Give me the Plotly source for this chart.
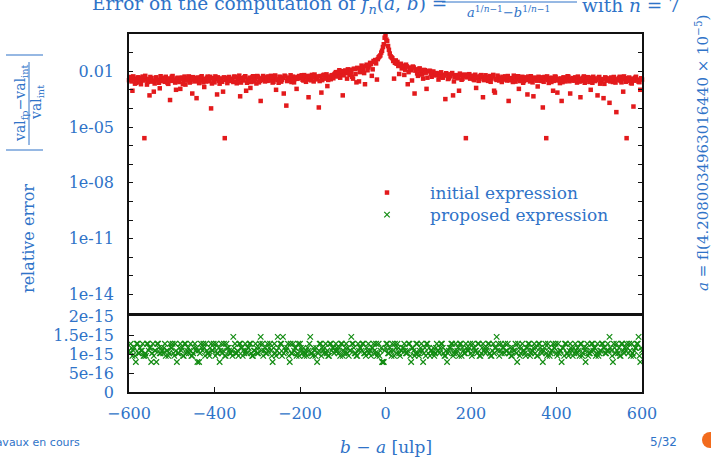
import plotly.graph_objects as go

# ---------------- data ----------------
# b - a in ulp, two interleaved sample grids
b_minus_a = list(range(-600, 601, 4))
b_minus_a_mid = list(range(-598, 599, 4))

# log10 of the relative error of the initial expression, on b_minus_a
initial_log10_err = [
    -2.48, -2.31, -3.05, -2.42, -2.62, -2.35, -2.55, -2.70, -2.29, -5.60, -2.44, -2.58, -3.30, -2.38, -2.51, -2.66, -2.33, -2.47, -2.92, -2.40,
    -2.36, -2.57, -2.45, -2.68, -3.55, -2.30, -2.49, -2.61, -2.39, -2.53, -2.95, -2.34, -2.46, -2.72, -2.41, -2.28, -2.56, -3.20, -2.43, -2.37,
    -2.50, -2.64, -2.32, -2.45, -2.85, -2.55, -2.29, -2.48, -4.00, -2.38, -2.60, -2.42, -2.33, -2.67, -2.47, -3.10, -5.60, -2.36, -2.52, -2.44,
    -2.40, -2.58, -2.30, -2.65, -2.43, -3.35, -2.37, -2.50, -2.27, -2.62, -2.45, -2.90, -2.34, -2.55, -2.41, -2.26, -2.60, -3.60, -2.39, -2.48,
    -2.33, -2.52, -2.44, -2.25, -2.61, -2.38, -3.00, -2.47, -2.30, -2.56, -2.36, -2.24, -3.85, -2.49, -2.35, -2.58, -2.29, -2.42, -2.95, -2.31,
    -2.37, -2.22, -2.50, -2.34, -2.27, -3.40, -2.45, -2.20, -2.55, -2.31, -2.40, -3.95, -2.26, -2.48, -2.19, -2.36, -2.80, -2.29, -2.43, -2.21,
    -2.18, -2.05, -2.26, -1.95, -2.14, -3.30, -2.00, -2.11, -1.90, -2.20, -2.08, -2.40, -1.88, -2.60, -1.85, -2.05, -1.70, -1.95, -2.70, -1.65,
    -1.80, -1.55, -2.25, -1.45, -1.40, -2.45, -1.25, -1.15, -0.90, -0.55, -0.06, -0.38, -0.85, -1.20, -1.30, -2.40, -1.42, -1.50, -2.15, -1.60,
    -1.70, -2.20, -1.65, -2.70, -1.80, -1.95, -1.75, -3.20, -1.90, -2.25, -1.85, -2.05, -2.40, -1.95, -2.95, -2.00, -1.98, -2.30, -2.02, -2.20,
    -2.20, -2.45, -2.12, -2.32, -2.24, -3.50, -2.17, -2.38, -2.28, -2.10, -2.55, -2.22, -2.34, -3.05, -2.19, -2.41, -2.27, -5.60, -2.30, -2.16,
    -2.36, -2.24, -2.48, -2.90, -2.29, -2.40, -2.21, -3.40, -2.44, -2.33, -2.52, -2.26, -2.38, -2.20, -3.15, -2.47, -2.31, -2.42, -2.58, -2.35,
    -2.28, -2.50, -3.60, -2.37, -2.45, -2.24, -2.56, -2.33, -2.95, -2.41, -2.30, -2.53, -2.39, -3.25, -2.46, -2.27, -2.60, -2.35, -2.44, -2.82,
    -2.38, -2.52, -3.95, -2.31, -5.60, -2.47, -2.36, -2.58, -3.05, -2.29, -2.49, -2.41, -2.64, -3.60, -2.34, -2.55, -2.43, -2.30, -3.20, -2.50,
    -2.46, -2.33, -2.61, -2.40, -3.40, -2.52, -2.28, -2.57, -2.44, -2.36, -3.00, -2.62, -2.39, -2.48, -3.30, -2.31, -2.55, -2.45, -2.68, -2.37,
    -2.50, -3.70, -2.34, -2.58, -2.42, -4.20, -2.47, -2.30, -2.60, -3.10, -2.38, -5.60, -2.52, -2.44, -2.66, -3.90, -2.35, -2.49, -2.57, -3.00,
    -2.45,
]

# log10 of the relative error of the initial expression, on b_minus_a_mid
initial_log10_err_mid = [
    -2.40, -2.55, -2.28, -2.67, -2.45, -2.33, -2.60, -2.38, -2.50, -2.25, -2.72, -2.42, -2.31, -2.56, -3.10, -2.36, -2.48, -2.62, -2.27, -2.53,
    -2.44, -2.30, -2.63, -2.39, -2.52, -2.26, -2.47, -3.00, -2.35, -2.58, -2.41, -2.69, -2.29, -2.50, -2.37, -2.61, -2.43, -2.32, -2.55, -3.45,
    -2.34, -2.49, -2.27, -2.60, -2.42, -2.36, -2.54, -2.30, -2.66, -2.45, -2.28, -3.25, -2.51, -2.39, -2.57, -2.33, -2.46, -2.64, -2.31, -2.52,
    -2.47, -2.29, -2.56, -2.38, -2.24, -2.61, -2.43, -2.32, -3.05, -2.49, -2.35, -2.58, -2.27, -2.44, -2.66, -2.30, -2.52, -2.40, -2.26, -2.55,
    -2.39, -2.28, -2.50, -2.35, -2.57, -2.23, -2.44, -2.62, -2.31, -2.47, -3.20, -2.29, -2.53, -2.37, -2.22, -2.48, -2.60, -2.33, -2.41, -2.26,
    -2.30, -2.46, -2.21, -2.57, -2.36, -2.25, -2.49, -2.32, -2.18, -2.44, -2.28, -2.53, -3.15, -2.23, -2.40, -2.17, -2.47, -2.31, -2.22, -2.38,
    -2.12, -2.28, -2.05, -2.35, -2.00, -2.22, -1.96, -2.40, -2.08, -1.92, -2.30, -1.87, -2.15, -1.82, -2.55, -1.90, -1.78, -2.10, -1.72, -1.95,
    -1.68, -1.62, -1.90, -1.50, -1.58, -1.35, -1.20, -1.00, -0.70, -0.20, -0.30, -0.65, -1.05, -1.25, -1.45, -1.55, -1.60, -1.72, -1.65, -1.85,
    -1.78, -1.92, -1.74, -2.05, -1.85, -2.50, -1.80, -1.97, -2.12, -1.88, -2.00, -2.18, -1.93, -2.08, -2.35, -1.99, -2.15, -2.04, -2.22, -2.10,
    -2.14, -2.28, -2.06, -2.35, -2.19, -2.11, -2.42, -2.25, -2.16, -3.30, -2.30, -2.21, -2.38, -2.13, -2.46, -2.26, -2.18, -2.33, -2.23, -2.40,
    -2.27, -2.44, -2.19, -2.36, -2.52, -2.25, -2.31, -2.48, -2.22, -2.40, -2.34, -2.57, -2.28, -3.05, -2.43, -2.24, -2.50, -2.37, -2.30, -2.45,
    -2.35, -2.26, -2.49, -2.40, -2.58, -2.31, -2.44, -2.27, -2.53, -2.38, -2.62, -2.33, -2.47, -2.29, -2.55, -2.42, -3.35, -2.36, -2.51, -2.30,
    -2.44, -2.33, -2.57, -2.41, -2.28, -2.63, -2.45, -2.36, -2.52, -2.30, -3.15, -2.48, -2.39, -2.59, -2.34, -2.46, -2.27, -2.54, -2.42, -2.37,
    -2.51, -2.38, -2.29, -2.56, -2.43, -2.35, -2.62, -2.47, -2.32, -2.58, -2.40, -2.30, -2.53, -2.45, -2.36, -2.67, -2.42, -3.45, -2.33, -2.49,
    -2.39, -2.55, -2.44, -2.31, -2.61, -2.47, -2.36, -2.52, -2.42, -2.28, -2.57, -2.46, -2.34, -2.63, -2.40, -2.51, -2.30, -2.45, -2.59, -2.38,
]

# relative error of the proposed expression (units of 1e-15), on b_minus_a
proposed_err_e15 = [
    1.09, 1.27, 0.95, 1.16, 0.79, 1.27, 1.02, 1.09, 1.27, 0.95, 0.95, 1.27, 1.16, 0.79, 1.27, 1.09, 0.79, 1.27, 1.02, 1.16,
    1.02, 1.27, 1.09, 0.95, 1.27, 1.16, 1.02, 1.27, 0.79, 1.02, 1.27, 1.16, 0.95, 1.27, 1.09, 1.02, 1.27, 0.95, 1.16, 1.09,
    0.79, 0.79, 1.27, 1.09, 1.16, 1.27, 1.02, 0.95, 1.27, 1.09, 1.16, 1.27, 1.02, 0.79, 1.27, 1.09, 0.95, 1.27, 1.16, 1.02,
    1.09, 1.45, 1.27, 1.02, 0.95, 1.27, 1.16, 1.09, 1.27, 1.02, 1.16, 1.27, 0.95, 1.09, 1.27, 1.02, 1.16, 1.45, 1.27, 1.09,
    1.02, 1.27, 1.16, 1.09, 0.79, 1.27, 0.95, 1.45, 1.02, 1.27, 1.45, 1.16, 1.09, 1.27, 0.79, 1.02, 1.27, 1.16, 0.95, 1.27,
    1.27, 1.09, 1.16, 1.02, 0.95, 1.09, 1.45, 1.02, 1.16, 0.95, 0.79, 1.09, 1.27, 1.16, 1.02, 1.27, 1.09, 0.95, 1.27, 1.16,
    1.02, 1.27, 1.09, 1.16, 1.27, 0.95, 1.02, 1.27, 1.16, 1.09, 1.45, 1.27, 1.02, 0.95, 1.27, 1.16, 1.09, 1.27, 1.02, 1.16,
    1.27, 1.09, 1.16, 1.27, 1.02, 0.95, 1.27, 1.09, 0.79, 0.79, 1.16, 1.27, 1.02, 1.09, 1.27, 0.95, 1.16, 1.27, 1.02, 1.09,
    1.16, 1.27, 1.02, 1.09, 1.27, 0.79, 1.16, 0.95, 1.27, 1.02, 1.09, 1.27, 0.79, 1.16, 1.27, 1.02, 0.95, 1.09, 1.16, 1.02,
    1.27, 1.09, 1.16, 1.27, 1.02, 0.95, 0.79, 1.09, 1.16, 1.27, 1.02, 1.27, 1.09, 0.95, 1.27, 1.16, 1.02, 1.27, 1.09, 1.16,
    1.02, 1.27, 1.16, 1.09, 1.27, 0.95, 1.02, 1.27, 1.16, 1.09, 1.27, 1.02, 0.95, 1.27, 1.16, 1.45, 1.27, 1.09, 1.02, 1.16,
    1.27, 1.09, 1.02, 1.16, 0.95, 1.09, 1.27, 0.79, 1.16, 1.02, 1.27, 1.09, 0.95, 1.16, 1.27, 1.02, 1.09, 1.27, 1.16, 0.95,
    1.27, 1.09, 0.79, 1.16, 1.02, 1.27, 0.95, 1.09, 1.27, 1.16, 1.02, 1.27, 1.09, 0.79, 1.16, 1.27, 1.02, 0.95, 1.27, 1.09,
    1.16, 1.27, 1.02, 1.09, 1.27, 0.95, 1.16, 0.79, 1.27, 1.02, 1.09, 1.27, 1.16, 0.95, 1.27, 1.02, 1.09, 1.27, 1.16, 1.02,
    1.27, 1.45, 1.09, 0.79, 1.16, 1.27, 1.02, 0.95, 1.27, 1.09, 1.16, 1.27, 1.02, 1.09, 1.27, 0.95, 1.16, 1.27, 1.45, 0.79,
    1.09,
]

# relative error of the proposed expression (units of 1e-15), on b_minus_a_mid
proposed_err_e15_mid = [
    1.02, 1.16, 1.09, 0.95, 1.27, 1.02, 1.16, 1.09, 0.95, 1.02, 1.27, 1.09, 1.16, 1.02, 0.95, 1.09, 1.27, 1.16, 1.02, 1.09,
    1.16, 0.95, 1.09, 1.02, 1.16, 1.27, 0.95, 1.09, 1.02, 1.16, 1.09, 0.95, 1.27, 1.02, 1.16, 1.09, 0.95, 1.02, 1.27, 1.16,
    1.09, 1.02, 1.16, 1.27, 0.95, 1.09, 1.02, 1.16, 1.09, 1.27, 0.95, 1.02, 1.16, 1.09, 1.02, 1.27, 0.95, 1.16, 1.09, 1.02,
    0.95, 1.16, 1.02, 1.09, 1.27, 1.16, 0.95, 1.02, 1.09, 1.16, 1.27, 1.02, 0.95, 1.09, 1.16, 1.02, 1.27, 1.09, 0.95, 1.16,
    1.02, 1.09, 1.27, 0.95, 1.16, 1.02, 1.09, 1.16, 1.27, 0.95, 1.02, 1.09, 1.16, 0.95, 1.27, 1.02, 1.09, 1.16, 1.02, 0.95,
    1.16, 1.02, 0.95, 1.09, 1.16, 1.27, 1.02, 0.95, 1.09, 1.16, 1.02, 1.27, 0.95, 1.09, 1.16, 1.02, 0.95, 1.27, 1.09, 1.16,
    1.09, 1.16, 1.02, 0.95, 1.27, 1.09, 1.16, 1.02, 0.95, 1.09, 1.27, 1.16, 1.02, 0.95, 1.09, 1.16, 1.27, 1.02, 0.95, 1.09,
    1.02, 0.95, 1.16, 1.09, 1.27, 1.02, 0.95, 1.16, 0.79, 1.09, 1.27, 1.02, 1.16, 0.95, 1.09, 1.27, 1.02, 1.16, 0.95, 1.09,
    1.16, 1.09, 1.02, 1.27, 0.95, 1.16, 1.09, 1.02, 1.27, 0.95, 1.16, 1.09, 1.02, 0.95, 1.27, 1.16, 1.09, 1.02, 0.95, 1.16,
    1.09, 1.02, 1.27, 1.16, 0.95, 1.09, 1.02, 1.16, 1.27, 0.95, 1.09, 1.02, 1.16, 1.27, 0.95, 1.09, 1.02, 1.16, 1.09, 1.27,
    0.95, 1.16, 1.09, 1.02, 1.27, 0.95, 1.16, 1.09, 1.02, 1.16, 1.27, 0.95, 1.09, 1.02, 1.16, 1.09, 0.95, 1.27, 1.16, 1.02,
    1.09, 1.27, 1.02, 0.95, 1.16, 1.09, 1.02, 1.27, 0.95, 1.16, 1.09, 1.02, 1.16, 1.27, 0.95, 1.09, 1.16, 1.02, 0.95, 1.27,
    1.16, 1.02, 1.09, 1.27, 0.95, 1.16, 1.02, 1.09, 1.16, 1.27, 0.95, 1.02, 1.09, 1.16, 0.95, 1.27, 1.02, 1.09, 1.16, 0.95,
    1.02, 1.09, 1.16, 0.95, 1.27, 1.02, 1.09, 1.16, 0.95, 1.02, 1.27, 1.09, 1.16, 1.02, 0.95, 1.09, 1.27, 1.16, 1.02, 1.09,
    1.09, 1.16, 0.95, 1.27, 1.02, 1.09, 1.16, 0.95, 1.27, 1.02, 1.09, 1.16, 1.27, 0.95, 1.02, 1.09, 1.16, 1.27, 0.95, 1.16,
]

assert len(initial_log10_err) == len(b_minus_a) == len(proposed_err_e15)
assert len(initial_log10_err_mid) == len(b_minus_a_mid) == len(proposed_err_e15_mid)

x_ticks = [-600, -400, -200, 0, 200, 400, 600]
x_tick_labels = ["\u2212600", "\u2212400", "\u2212200", "0", "200", "400", "600"]
top_decades = list(range(-15, 1))
top_labelled = {-2: "0.01", -5: "1e-05", -8: "1e-08", -11: "1e-11", -14: "1e-14"}
bottom_ticks = [0, 0.5e-15, 1e-15, 1.5e-15, 2e-15]
bottom_tick_labels = ["0", "5e-16", "1e-15", "1.5e-15", "2e-15"]
ulp_ticks = [1.63e-15, 0.14e-15]
ulp_tick_labels = ["10 ulp", "ulp"]

# ---------------- styling ----------------
W, H = 711, 458
BLUE = "#2f73c8"
RED = "#e31a1c"
GREEN = "#138c13"
FONT = "DejaVu Serif"
AX = "#111111"


def px(x):
    return x / W


def py(y):
    return 1 - y / H


x_dom = [px(129), px(642)]
top_dom = [py(313), py(34)]
bot_dom = [py(392), py(316)]

fig = go.Figure()
fig.add_trace(go.Scatter(
    x=b_minus_a + b_minus_a_mid,
    y=[10 ** v for v in initial_log10_err + initial_log10_err_mid],
    mode="markers", name="initial expression", legend="legend",
    marker=dict(symbol="square", size=4.5, color=RED, line=dict(width=0)),
    xaxis="x", yaxis="y", cliponaxis=False,
))
fig.add_trace(go.Scatter(
    x=b_minus_a + b_minus_a_mid,
    y=[v * 1e-15 for v in proposed_err_e15 + proposed_err_e15_mid],
    mode="markers", name="proposed expression", legend="legend2",
    marker=dict(symbol="x-thin", size=5.5, color=GREEN, line=dict(width=1.2, color=GREEN)),
    xaxis="x2", yaxis="y2",
))

tickfont = dict(family=FONT, size=16, color=BLUE)
common = dict(showgrid=False, zeroline=False, automargin=False, tickfont=tickfont)
legend_common = dict(
    xanchor="left", yanchor="middle",
    font=dict(family=FONT, size=17, color=BLUE),
    bgcolor="rgba(0,0,0,0)", itemwidth=76, borderwidth=0,
)

fig.update_layout(
    width=W, height=H,
    margin=dict(l=0, r=0, t=0, b=0, autoexpand=False),
    paper_bgcolor="white", plot_bgcolor="white",
    showlegend=True,
    legend=dict(x=px(344), y=py(193), **legend_common),
    legend2=dict(x=px(344), y=py(215), **legend_common),
    xaxis=dict(
        domain=x_dom, anchor="y", range=[-600, 600],
        showticklabels=False, ticks="",
        showline=True, mirror=True, linecolor=AX, linewidth=1.5, **common,
    ),
    yaxis=dict(
        domain=top_dom, anchor="x", type="log", range=[-15, 0],
        tickvals=[10.0 ** k for k in top_decades],
        ticktext=[top_labelled.get(k, "") for k in top_decades],
        ticks="inside", ticklen=4, tickcolor=AX, tickwidth=1,
        mirror="allticks", showline=True, linecolor=AX, linewidth=1.5,
        ticklabelstandoff=10, **common,
    ),
    xaxis2=dict(
        domain=x_dom, anchor="y2", range=[-600, 600],
        tickvals=x_ticks, ticktext=x_tick_labels,
        ticks="inside", ticklen=5, tickcolor=AX,
        showline=True, mirror=True, linecolor=AX, linewidth=1.5,
        ticklabelstandoff=6, **common,
    ),
    yaxis2=dict(
        domain=bot_dom, anchor="x2", range=[0, 2e-15],
        tickvals=bottom_ticks, ticktext=bottom_tick_labels,
        ticks="inside", ticklen=5, tickcolor=AX,
        showline=True, mirror=True, linecolor=AX, linewidth=1.5,
        ticklabelstandoff=10, **common,
    ),
    yaxis3=dict(
        overlaying="y2", anchor="x2", side="right", range=[0, 2e-15],
        tickvals=ulp_ticks, ticktext=ulp_tick_labels,
        ticks="inside", ticklen=5, tickcolor=AX,
        showline=False, ticklabelstandoff=10, **common,
    ),
)

ann = []
# frame title (cut off at the top like the slide)
ann.append(dict(x=px(90), y=py(5.5), xanchor="left", yanchor="middle",
                text="Error on the computation of <i>f</i><sub><i>n</i></sub>(<i>a</i>, <i>b</i>) =",
                font=dict(family=FONT, size=18.5, color=BLUE)))
ann.append(dict(x=px(509), y=py(12), xanchor="center", yanchor="middle",
                text="<i>a</i><sup>1/<i>n</i>\u22121</sup>\u2212<i>b</i><sup>1/<i>n</i>\u22121</sup>",
                font=dict(family=FONT, size=13, color=BLUE)))
ann.append(dict(x=px(580), y=py(5.5), xanchor="left", yanchor="middle",
                text="with <i>n</i> = 7",
                font=dict(family=FONT, size=18.5, color=BLUE)))
# y-axis titles
ann.append(dict(x=px(28), y=py(239), xanchor="center", yanchor="middle",
                text="relative error", textangle=-90,
                font=dict(family=FONT, size=16, color=BLUE)))
ann.append(dict(x=px(21), y=py(103), xanchor="center", yanchor="middle",
                text="val<sub>fp</sub>\u2212val<sub>int</sub>", textangle=-90,
                font=dict(family=FONT, size=14, color=BLUE)))
ann.append(dict(x=px(37), y=py(103), xanchor="center", yanchor="middle",
                text="val<sub>int</sub>", textangle=-90,
                font=dict(family=FONT, size=14, color=BLUE)))
# right rotated text
ann.append(dict(x=px(702), y=py(293), xanchor="center", yanchor="bottom",
                text="<i>a</i> = fl(4.2080034963016440 \u00d7 10<sup>\u22125</sup>)", textangle=-90,
                font=dict(family=FONT, size=15, color=BLUE)))
# x-axis title
ann.append(dict(x=px(386), y=py(447), xanchor="center", yanchor="middle",
                text="<i>b</i> \u2212 <i>a</i> [ulp]",
                font=dict(family=FONT, size=17, color=BLUE)))
# slide footer
ann.append(dict(x=px(82), y=py(442), xanchor="right", yanchor="middle",
                text="Travaux en cours",
                font=dict(family="DejaVu Sans", size=11, color=BLUE)))
ann.append(dict(x=px(663), y=py(442), xanchor="center", yanchor="middle",
                text="5/32",
                font=dict(family="DejaVu Sans", size=12, color=BLUE)))
for a in ann:
    a.update(xref="paper", yref="paper", showarrow=False)
fig.update_layout(annotations=ann)

shapes = [
    # fraction bar in the title
    dict(type="line", x0=px(442), x1=px(577), y0=py(2), y1=py(2), line=dict(color=BLUE, width=1)),
    # |fraction| label on the left
    dict(type="line", x0=px(29), x1=px(29), y0=py(62), y1=py(145), line=dict(color=BLUE, width=1)),
    dict(type="line", x0=px(6), x1=px(43), y0=py(55), y1=py(55), line=dict(color=BLUE, width=1.2)),
    dict(type="line", x0=px(6), x1=px(43), y0=py(150), y1=py(150), line=dict(color=BLUE, width=1.2)),
    # orange logo fragment at the bottom right corner
    dict(type="circle", x0=px(702), x1=px(718), y0=py(448), y1=py(432),
         fillcolor="#f26b1d", line=dict(width=0)),
]
for s in shapes:
    s.update(xref="paper", yref="paper")
fig.update_layout(shapes=shapes)

# the slide has no page margin around the figure
fig.write_html("out.html", config={"displayModeBar": False},
               post_script="document.body.style.margin='0px';")
